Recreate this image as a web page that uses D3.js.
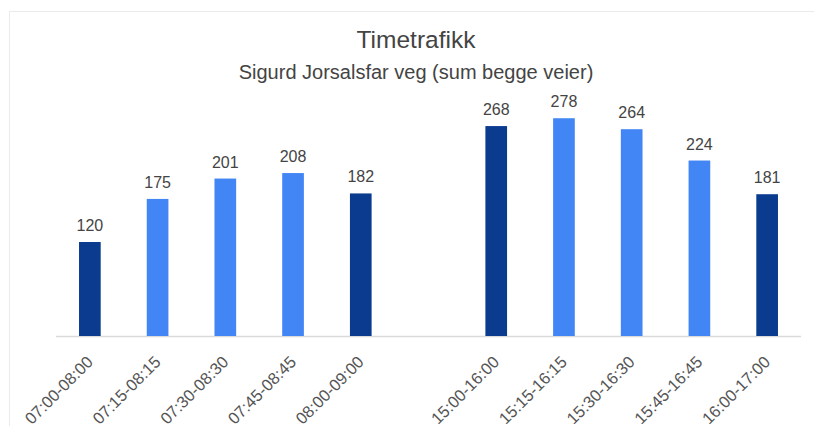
<!DOCTYPE html>
<html>
<head>
<meta charset="utf-8">
<script src="https://cdn.jsdelivr.net/npm/d3@7"></script>
<style>
  body { margin: 0; background: #fff; }
  text { font-family: Arial, "Liberation Sans", sans-serif; }
</style>
</head>
<body>
<div id="chart"></div>
<script>
// morning and afternoon counts, the '' slot is the gap between them
const categories = [
  '07:00-08:00', '07:15-08:15', '07:30-08:30', '07:45-08:45', '08:00-09:00',
  '',
  '15:00-16:00', '15:15-16:15', '15:30-16:30', '15:45-16:45', '16:00-17:00'
];
const values = [120, 175, 201, 208, 182, null, 268, 278, 264, 224, 181];
const yDomain = [0, 300];

const width = 814, height = 426;
const baseY = 336, topY = 101;

const svg = d3.select('#chart').append('svg')
  .attr('width', width)
  .attr('height', height);

// faint frame
svg.append('rect')
  .attr('x', 9.5).attr('y', 11.5)
  .attr('width', 900).attr('height', 600)
  .attr('fill', 'none')
  .attr('stroke', '#ebebeb');

var x = d3.scaleBand().domain(categories).range([56, 801]).paddingInner(0.68).paddingOuter(0.34);
var y = d3.scaleLinear().domain(yDomain).range([baseY, topY]);

// dark for whole hours, light for the shifted quarters
function colour(c) {
  return c.slice(3, 5) === '00' ? '#0b3b8f' : '#4285f4';
}

var data = categories.map(function(c, i) {
  return { cat: c, value: values[i] };
}).filter(function(d) { return d.value != null; });

// baseline
svg.append('line')
  .attr('x1', 56).attr('x2', 801)
  .attr('y1', baseY + 0.5).attr('y2', baseY + 0.5)
  .attr('stroke', '#dadada')
  .attr('stroke-width', 1.5);

svg.append('g').selectAll('rect')
  .data(data)
  .enter().append('rect')
  .attr('x', function(d) { return x(d.cat); })
  .attr('width', x.bandwidth())
  .attr('y', function(d) { return y(d.value); })
  .attr('height', function(d) { return baseY - y(d.value); })
  .attr('fill', function(d) { return colour(d.cat); });

// value labels
svg.append('g').selectAll('text')
  .data(data)
  .enter().append('text')
  .attr('x', function(d) { return x(d.cat) + x.bandwidth() / 2; })
  .attr('y', function(d) { return y(d.value) - 11; })
  .attr('text-anchor', 'middle')
  .style('font-size', '16px')
  .style('fill', '#444')
  .text(function(d) { return d.value; });

// x axis, rotated labels
var xAxis = d3.axisBottom(x).tickSize(0).tickPadding(0);
var gx = svg.append('g')
  .attr('transform', 'translate(0,' + baseY + ')')
  .call(xAxis);
gx.select('.domain').remove();
gx.selectAll('.tick text')
  .attr('text-anchor', 'end')
  .attr('dy', '0.35em')
  .attr('transform', 'translate(0,23) rotate(-45)')
  .style('font-size', '16.5px')
  .style('font-family', 'Arial, "Liberation Sans", sans-serif')
  .style('fill', '#555');

// titles
svg.append('text')
  .attr('x', 416).attr('y', 48)
  .attr('text-anchor', 'middle')
  .style('font-size', '24.5px')
  .style('fill', '#444')
  .text('Timetrafikk');

svg.append('text')
  .attr('x', 416).attr('y', 79)
  .attr('text-anchor', 'middle')
  .style('font-size', '20px')
  .style('fill', '#444')
  .text('Sigurd Jorsalsfar veg (sum begge veier)');
</script>
</body>
</html>
